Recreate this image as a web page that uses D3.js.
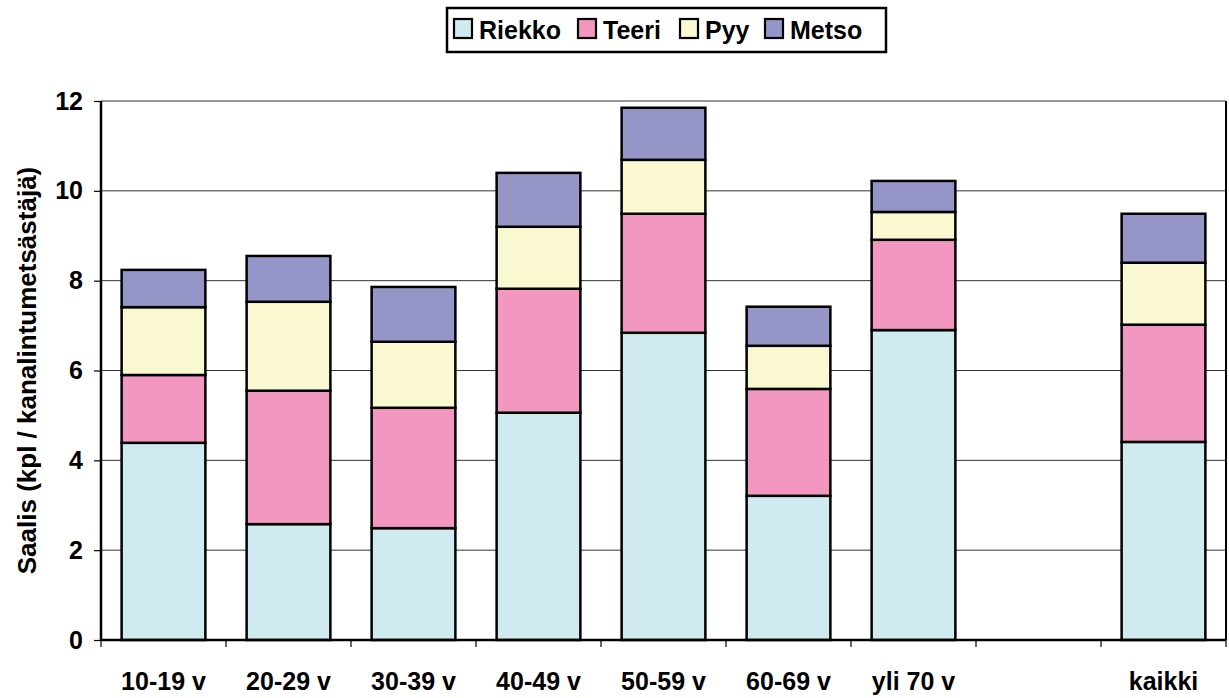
<!DOCTYPE html>
<html>
<head>
<meta charset="utf-8">
<script src="https://cdn.jsdelivr.net/npm/d3@7"></script>
<style>
  body { margin: 0; background: #fff; }
</style>
</head>
<body>
<div id="chart"></div>
<script>
// Data
const ryhmat = ["10-19 v", "20-29 v", "30-39 v", "40-49 v", "50-59 v", "60-69 v", "yli 70 v", "", "kaikki"];
const lajit = ["Riekko", "Teeri", "Pyy", "Metso"];
const riekko = [4.39, 2.58, 2.49, 5.06, 6.84, 3.21, 6.9, 0, 4.41];
const teeri = [1.51, 2.97, 2.68, 2.76, 2.65, 2.38, 2.01, 0, 2.61];
const pyy = [1.51, 1.98, 1.47, 1.38, 1.2, 0.96, 0.62, 0, 1.38];
const metso = [0.83, 1.02, 1.22, 1.2, 1.16, 0.87, 0.69, 0, 1.09];
const yTicks = [0, 2, 4, 6, 8, 10, 12];
const varit = ["#cfebef", "#f297bf", "#faf8d0", "#9595c8"];

const fontti = "'Liberation Sans', Arial, sans-serif";

let margin = { top: 101, right: 3, bottom: 58, left: 101 },
  width = 1229 - margin.left - margin.right,
  height = 698 - margin.top - margin.bottom;

let svg = d3
  .select("#chart")
  .append("svg")
  .attr("width", 1229)
  .attr("height", 698);

let g = svg.append("g").attr("transform", "translate(" + margin.left + "," + margin.top + ")");

function tyyli(sel) {
  sel.attr("font-family", fontti).attr("font-weight", "bold").attr("font-size", 25).attr("fill", "#000");
}

// taulukko stackia varten
let rivit = ryhmat.map(function (r, i) {
  return { ryhma: r, Riekko: riekko[i], Teeri: teeri[i], Pyy: pyy[i], Metso: metso[i], idx: i };
});
let pinot = d3.stack().keys(lajit)(rivit);

let x = d3.scaleBand().domain(d3.range(ryhmat.length)).range([0, width]).paddingInner(0.33).paddingOuter(0.165);
let step = width / ryhmat.length;
let y = d3.scaleLinear().domain([0, 12]).range([height, 0]);

// vaakaviivat
g.append("g")
  .selectAll("line")
  .data(yTicks.slice(1))
  .enter()
  .append("line")
  .attr("x1", 0)
  .attr("x2", width)
  .attr("y1", function (d) { return y(d); })
  .attr("y2", function (d) { return y(d); })
  .attr("stroke", "#333")
  .attr("stroke-width", 1);

// oikea reuna
g.append("line")
  .attr("x1", width).attr("x2", width)
  .attr("y1", 0).attr("y2", height)
  .attr("stroke", "#000").attr("stroke-width", 2);

// pylväät
g.selectAll("g.laji")
  .data(pinot)
  .enter()
  .append("g")
  .attr("class", "laji")
  .attr("fill", function (d, i) { return varit[i]; })
  .selectAll("rect")
  .data(function (d) { return d.filter(function (s) { return s[1] - s[0] > 0; }); })
  .enter()
  .append("rect")
  .attr("x", function (d) { return x(d.data.idx); })
  .attr("y", function (d) { return y(d[1]); })
  .attr("width", x.bandwidth())
  .attr("height", function (d) { return y(d[0]) - y(d[1]); })
  .attr("stroke", "#000")
  .attr("stroke-width", 2.5);

// Y-akseli
let yAxis = g.append("g")
  .call(d3.axisLeft(y).tickValues(yTicks).tickSize(7).tickPadding(11).tickFormat(d3.format("d")));
yAxis.select(".domain").attr("stroke-width", 2.5).attr("d", "M0," + height + "V0");
yAxis.selectAll(".tick line").attr("stroke-width", 1.2);
yAxis.selectAll("text").call(tyyli);

// X-akseli
let xb = g.append("g").attr("transform", "translate(0," + height + ")");
xb.append("line").attr("x1", 0).attr("x2", width).attr("stroke", "#000").attr("stroke-width", 2.5);
xb.selectAll("line.tick")
  .data(d3.range(ryhmat.length + 1))
  .enter()
  .append("line")
  .attr("class", "tick")
  .attr("x1", function (d) { return d * step; })
  .attr("x2", function (d) { return d * step; })
  .attr("y1", 0)
  .attr("y2", 7)
  .attr("stroke", "#000")
  .attr("stroke-width", 1.2);
xb.selectAll("text")
  .data(ryhmat)
  .enter()
  .append("text")
  .attr("x", function (d, i) { return x(i) + x.bandwidth() / 2; })
  .attr("y", 50)
  .attr("text-anchor", "middle")
  .call(tyyli)
  .text(function (d) { return d; });

// Y-akselin otsikko
svg.append("text")
  .attr("transform", "translate(36," + (margin.top + height / 2) + ") rotate(-90)")
  .attr("text-anchor", "middle")
  .call(tyyli)
  .attr("font-size", 26)
  .text("Saalis (kpl / kanalintumetsästäjä)");

// selite
let leg = svg.append("g").attr("transform", "translate(447,8)");
leg.append("rect").attr("width", 439).attr("height", 44).attr("fill", "#fff").attr("stroke", "#000").attr("stroke-width", 2.5);
let lx = [7, 131, 233, 318];
lajit.forEach(function (l, i) {
  leg.append("rect")
    .attr("x", lx[i]).attr("y", 11)
    .attr("width", 18).attr("height", 19)
    .attr("fill", varit[i]).attr("stroke", "#000").attr("stroke-width", 2.2);
  leg.append("text")
    .attr("x", lx[i] + 25).attr("y", 31)
    .call(tyyli)
    .text(l);
});
</script>
</body>
</html>
